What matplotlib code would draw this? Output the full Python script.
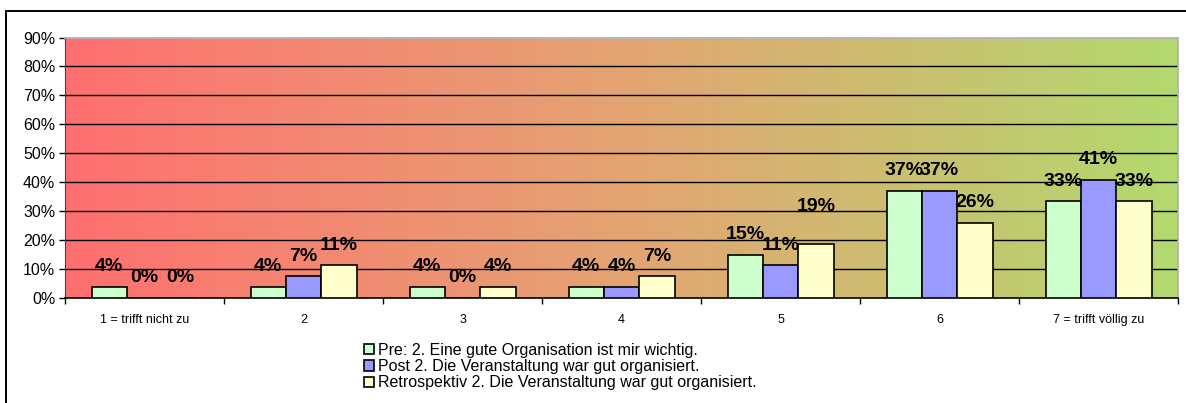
import matplotlib
matplotlib.use("Agg")
import matplotlib.pyplot as plt
import numpy as np
from matplotlib.colors import LinearSegmentedColormap
from matplotlib.patches import Rectangle

plt.rcParams["font.family"] = ["Liberation Sans", "DejaVu Sans"]

# Antworten in Prozent (n = 27)
categories = ["1 = trifft nicht zu", "2", "3", "4", "5", "6", "7 = trifft völlig zu"]
series_names = [
    "Pre: 2. Eine gute Organisation ist mir wichtig.",
    "Post 2. Die Veranstaltung war gut organisiert.",
    "Retrospektiv 2. Die Veranstaltung war gut organisiert.",
]
pre = [3.7, 3.7, 3.7, 3.7, 14.8, 37.0, 33.3]
post = [0.0, 7.4, 0.0, 3.7, 11.1, 37.0, 40.7]
retro = [0.0, 11.1, 3.7, 7.4, 18.5, 25.9, 33.3]
labels_pre = ["4%", "4%", "4%", "4%", "15%", "37%", "33%"]
labels_post = ["0%", "7%", "0%", "4%", "11%", "37%", "41%"]
labels_retro = ["0%", "11%", "4%", "7%", "19%", "26%", "33%"]

COLORS = ["#CCFFCC", "#9999FF", "#FFFFCC"]

fig = plt.figure(figsize=(11.86, 4.03), dpi=100)
fig.patch.set_facecolor("white")
ax = fig.add_axes([65 / 1186, 105.5 / 403, 1113 / 1186, 260 / 403])

# gradient background, red -> green
cmap = LinearSegmentedColormap.from_list("bg", ["#FF7070", "#E4A473", "#B3D96E"])
grad = np.linspace(0, 1, 512).reshape(1, -1)
ax.imshow(grad, cmap=cmap, aspect="auto", extent=(-0.5, 6.5, 0, 90), zorder=0)

ax.set_xlim(-0.5, 6.5)
ax.set_ylim(0, 90)

for yy in range(10, 90, 10):
    ax.axhline(yy, color="black", lw=1.0, zorder=1)

x = np.arange(len(categories))
w = 1 / 4.5
series = [pre, post, retro]
all_labels = [labels_pre, labels_post, labels_retro]
for k, (vals, col) in enumerate(zip(series, COLORS)):
    pos = x + (k - 1) * w
    ax.bar(pos, vals, width=w, color=col, edgecolor="black", lw=1.2, zorder=3,
           label=series_names[k])
    for i, (xp, v) in enumerate(zip(pos, vals)):
        dy = 6.9
        if (k, i) == (2, 4):
            dy = 13.0
        ax.text(xp, v + dy, all_labels[k][i], ha="center", va="center",
                fontsize=14, fontweight="bold", color="black", zorder=5)

# axes styling
for side in ["top", "right"]:
    ax.spines[side].set_color("#B0B0B0")
    ax.spines[side].set_linewidth(1.2)
ax.spines["left"].set_color("#404040")
ax.spines["bottom"].set_color("black")
ax.spines["bottom"].set_linewidth(1.2)

ax.set_yticks(range(0, 100, 10))
ax.set_yticklabels([f"{t}%" for t in range(0, 100, 10)], fontsize=11.5)
ax.tick_params(axis="y", direction="out", length=4, pad=3, width=1)

ax.set_xticks(np.arange(-0.5, 7, 1))
ax.set_xticklabels([])
ax.tick_params(axis="x", which="major", direction="out", length=4, width=1)
ax.set_xticks(x, minor=True)
ax.set_xticklabels(categories, minor=True, fontsize=9)
ax.tick_params(axis="x", which="minor", length=0, pad=12)

leg = fig.legend(loc="upper left", bbox_to_anchor=(364 / 1186, 1 - 343 / 403),
                 frameon=False, fontsize=11.5, handlelength=0.6, handleheight=0.6,
                 handletextpad=0.3, labelspacing=0.07, borderaxespad=0, borderpad=0)

# outer chart border
fig.patches.append(Rectangle((6 / 1186, -0.1), 1.2, 1.1 - 11 / 403, transform=fig.transFigure,
                             fill=False, edgecolor="black", lw=1.4))

fig.savefig("out.png", dpi=100)
